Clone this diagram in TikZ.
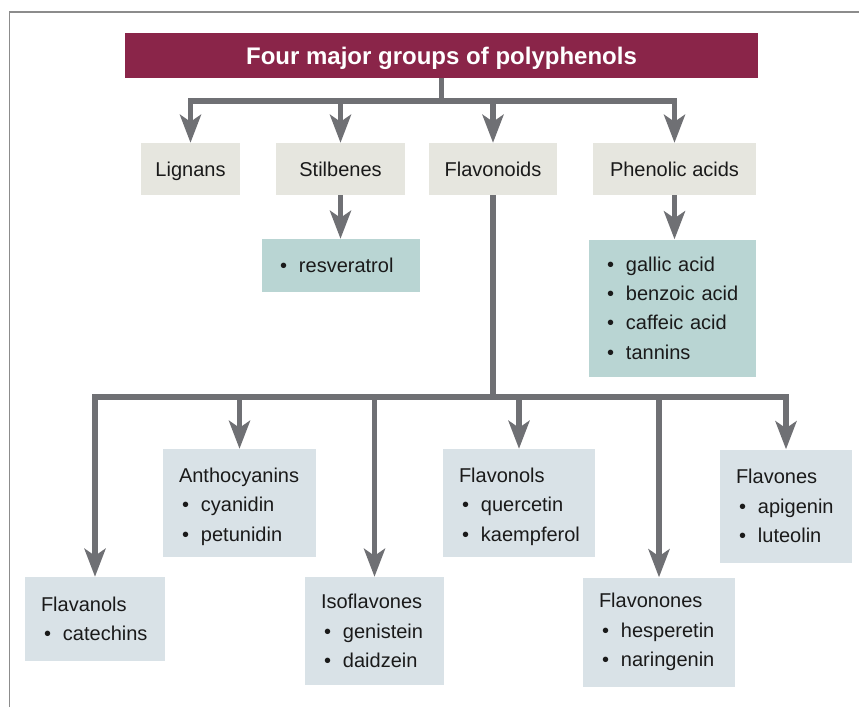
\documentclass[tikz,border=0pt]{standalone}
\usepackage{fontspec}
\setmainfont{Liberation Sans}
\usetikzlibrary{arrows.meta}
\definecolor{framegray}{HTML}{8C8C8C}
\definecolor{arrgray}{HTML}{6F7074}
\definecolor{titlered}{HTML}{8A2549}
\definecolor{beigebox}{HTML}{E6E6DF}
\definecolor{tealbox}{HTML}{B9D5D3}
\definecolor{bluebox}{HTML}{D9E2E7}
\definecolor{txt}{HTML}{1A1A1A}
\newcommand{\itm}[1]{\hspace*{3pt}\makebox[19pt][l]{\textbullet}#1}
\newcommand{\lowhd}[1]{\rule{0pt}{22pt}#1}
\begin{document}
\begin{tikzpicture}[x=1pt,y=-1pt,
  basebox/.style={rectangle, inner sep=0pt, text=txt, font=\fontsize{20}{29.4}\selectfont},
  topbox/.style={basebox, fill=beigebox, minimum height=52pt, text height=14.3pt, text depth=0pt},
  listbox/.style={basebox, fill=tealbox, align=left},
  subbox/.style={basebox, fill=bluebox, align=left},
  conn/.style={draw=arrgray, line width=5.5pt},
  arr/.style={conn, -{Stealth[length=28pt,width=21pt,inset=7pt]}}
]
\useasboundingbox (0,0) rectangle (859,707);
\draw[framegray, line width=1.5pt] (9.5,707) -- (9.5,12) -- (859,12);

% title
\node[basebox, fill=titlered, text=white, minimum width=633pt, minimum height=45pt,
  text height=17pt, text depth=0pt,
  font=\bfseries\fontsize{24}{28}\selectfont] (title) at (441.5,55.5) {Four major groups of polyphenols};

% top row
\node[topbox, minimum width=99pt] (lignans) at (190.5,169) {Lignans};
\node[topbox, minimum width=129pt] (stilbenes) at (340.5,169) {Stilbenes};
\node[topbox, minimum width=128pt] (flavonoids) at (493,169) {Flavonoids};
\node[topbox, minimum width=163pt] (phenolic) at (674.5,169) {Phenolic acids};

% lists
\node[listbox, minimum width=158pt, minimum height=53pt, text width=128pt] (resv) at (341,265.5) {\itm{resveratrol}};
\node[listbox, minimum width=167pt, minimum height=137pt, text width=137pt] (acids) at (672.5,308)
  {\itm{gallic acid}\\\itm{benzoic acid}\\\itm{caffeic acid}\\\itm{tannins}};

% flavonoid subgroups
\node[subbox, minimum width=140pt, minimum height=84pt, text width=108pt] (flavanols) at (95,619)
  {Flavanols\\\itm{catechins}};
\node[subbox, minimum width=153pt, minimum height=108pt, text width=121pt] (antho) at (239.5,503)
  {\lowhd{Anthocyanins}\\\itm{cyanidin}\\\itm{petunidin}};
\node[subbox, minimum width=139pt, minimum height=108pt, text width=107pt] (iso) at (374.5,631)
  {Isoflavones\\\itm{genistein}\\\itm{daidzein}};
\node[subbox, minimum width=152pt, minimum height=108pt, text width=120pt] (flavonols) at (519,503)
  {\lowhd{Flavonols}\\\itm{quercetin}\\\itm{kaempferol}};
\node[subbox, minimum width=152pt, minimum height=109pt, text width=120pt] (flavonones) at (659,632)
  {Flavonones\\\itm{hesperetin}\\\itm{naringenin}};
\node[subbox, minimum width=132pt, minimum height=113pt, text width=100pt] (flavones) at (786,506)
  {Flavones\\\itm{apigenin}\\\itm{luteolin}};

% connectors from title
\coordinate (j1) at (441.5,101);
\draw[conn] (title.south) -- (j1);
\draw[arr] (j1) -| (lignans.north);
\draw[arr] (j1) -| (stilbenes.north);
\draw[arr] (j1) -| (flavonoids.north);
\draw[arr] (j1) -| (phenolic.north);

% second level
\draw[arr] (stilbenes.south) -- (stilbenes.south |- resv.north);
\draw[arr] (phenolic.south) -- (phenolic.south |- acids.north);

\coordinate (j2) at (493,397);
\draw[conn] (flavonoids.south) -- (j2);
\draw[arr] (j2) -| (flavanols.north);
\draw[arr] (j2) -| (antho.north);
\draw[arr] (j2) -| (iso.north);
\draw[arr] (j2) -| (flavonols.north);
\draw[arr] (j2) -| (flavonones.north);
\draw[arr] (j2) -| (flavones.north);
\end{tikzpicture}
\end{document}
